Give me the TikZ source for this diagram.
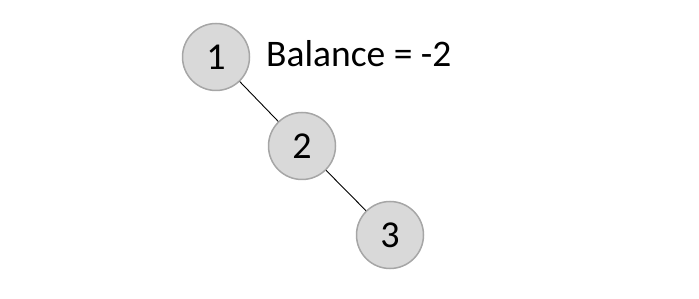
\documentclass[tikz,border=0pt]{standalone}
\usepackage{fontspec}
\setmainfont{Carlito}
\definecolor{nodefill}{HTML}{D9D9D9}
\definecolor{nodeedge}{HTML}{A6A6A6}
\begin{document}
\begin{tikzpicture}[x=1pt,y=-1pt,
  treenode/.style={circle,draw=nodeedge,fill=nodefill,line width=1.5pt,minimum size=67pt,inner sep=0pt,font=\fontsize{38}{44}\selectfont},
  edge/.style={draw=black,line width=0.9pt}]
\useasboundingbox (0,0) rectangle (699,299);
\node[treenode] (n1) at (216,57) {1};
\node[treenode] (n2) at (302,146) {2};
\node[treenode] (n3) at (390,235) {3};
\node[anchor=base west,inner sep=0pt,font=\fontsize{37.5}{44}\selectfont] (bal) at (266,67) {Balance = -2};
\draw[edge] (n1) -- (n2);
\draw[edge] (n2) -- (n3);
\end{tikzpicture}
\end{document}
